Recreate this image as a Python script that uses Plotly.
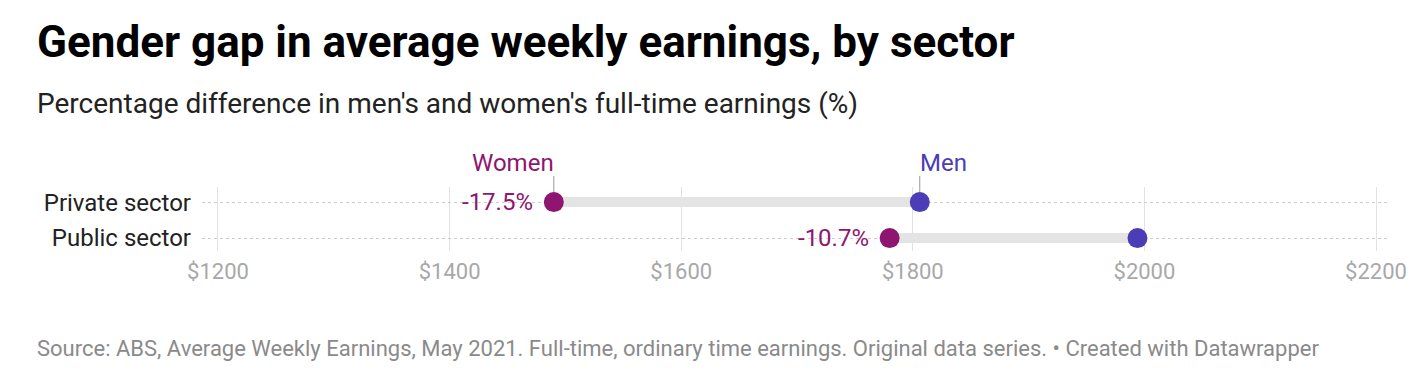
import plotly.graph_objects as go

sectors = ["Private sector", "Public sector"]
women = [1490, 1780]
men = [1806, 1994]
gap_labels = ["-17.5%", "-10.7%"]
tick_vals = [1200, 1400, 1600, 1800, 2000, 2200]
tick_text = ["$1200", "$1400", "$1600", "$1800", "$2000", "$2200"]

WOMEN_C = "#8e1570"
MEN_C = "#4b3db6"
FONT = "Roboto"

# page has an 8px body margin; work in window pixels and offset
OFF = 8
W, H = 1427 - 2 * OFF, 389 - 2 * OFF
PLOT_L, PLOT_R, PLOT_T, PLOT_B = 202, 1391, 187, 251  # window pixels
ML = PLOT_L - OFF
MR = W - (PLOT_R - OFF)
MT = PLOT_T - OFF
MB = H - (PLOT_B - OFF)
PH = PLOT_B - PLOT_T
PW = PLOT_R - PLOT_L


def py(ypx):
    return (PLOT_B - ypx) / PH


def px(xpx):
    return (xpx - PLOT_L) / PW


rows = list(range(len(sectors)))

fig = go.Figure()

for i in rows:
    fig.add_trace(go.Scatter(
        x=[women[i], men[i]], y=[i, i], mode="lines",
        line=dict(color="#e4e4e4", width=10), hoverinfo="skip", showlegend=False))

fig.add_trace(go.Scatter(
    x=women, y=rows, mode="markers",
    marker=dict(color=WOMEN_C, size=20, line=dict(width=0)), showlegend=False))
fig.add_trace(go.Scatter(
    x=men, y=rows, mode="markers",
    marker=dict(color=MEN_C, size=20, line=dict(width=0)), showlegend=False))

annotations = []
for i in rows:
    annotations.append(dict(
        x=women[i], y=i, xref="x", yref="y", text=gap_labels[i], showarrow=False,
        xanchor="right", yanchor="middle", xshift=-19,
        font=dict(family=FONT, size=24, color=WOMEN_C)))

annotations.append(dict(
    x=women[0], y=py(163), xref="x", yref="paper", text="Women", showarrow=False,
    xanchor="right", yanchor="middle", xshift=2,
    font=dict(family=FONT, size=24, color=WOMEN_C)))
annotations.append(dict(
    x=men[0], y=py(163), xref="x", yref="paper", text="Men", showarrow=False,
    xanchor="left", yanchor="middle", xshift=-2,
    font=dict(family=FONT, size=24, color=MEN_C)))

annotations.append(dict(
    x=px(35), y=py(42), xref="paper", yref="paper",
    text="<b>Gender gap in average weekly earnings, by sector</b>",
    showarrow=False, xanchor="left", yanchor="middle",
    font=dict(family=FONT, size=44, color="#000000")))
annotations.append(dict(
    x=px(35), y=py(103), xref="paper", yref="paper",
    text="Percentage difference in men's and women's full-time earnings (%)",
    showarrow=False, xanchor="left", yanchor="middle",
    font=dict(family=FONT, size=28, color="#222222")))
annotations.append(dict(
    x=px(35), y=py(348), xref="paper", yref="paper",
    text="Source: ABS, Average Weekly Earnings, May 2021. Full-time, ordinary time earnings. Original data series. \u2022 Created with Datawrapper",
    showarrow=False, xanchor="left", yanchor="middle",
    font=dict(family=FONT, size=22, color="#8a8a8a")))

shapes = [
    dict(type="line", xref="x", yref="paper", x0=women[0], x1=women[0],
         y0=py(176), y1=py(192), line=dict(color="#999999", width=1)),
    dict(type="line", xref="x", yref="paper", x0=men[0], x1=men[0],
         y0=py(176), y1=py(192), line=dict(color="#999999", width=1)),
]

fig.update_layout(
    width=W, height=H,
    margin=dict(l=ML, r=MR, t=MT, b=MB, pad=0),
    paper_bgcolor="white", plot_bgcolor="white",
    font=dict(family=FONT),
    annotations=annotations, shapes=shapes,
    xaxis=dict(range=[1186.2, 2211.2], tickvals=tick_vals, ticktext=tick_text,
               showgrid=True, gridcolor="#e2e2e2", gridwidth=1, zeroline=False,
               showline=False, ticks="", ticklabelstandoff=5,
               tickfont=dict(family=FONT, size=22, color="#a8a8a8")),
    yaxis=dict(range=[1.36, -0.42], tickvals=rows, ticktext=sectors,
               showgrid=True, gridcolor="#cccccc", griddash="dot", gridwidth=1,
               zeroline=False, showline=False, ticks="", ticklabelstandoff=10,
               tickfont=dict(family=FONT, size=24, color="#222222")),
    hovermode=False,
)

fig.write_html("out.html")
